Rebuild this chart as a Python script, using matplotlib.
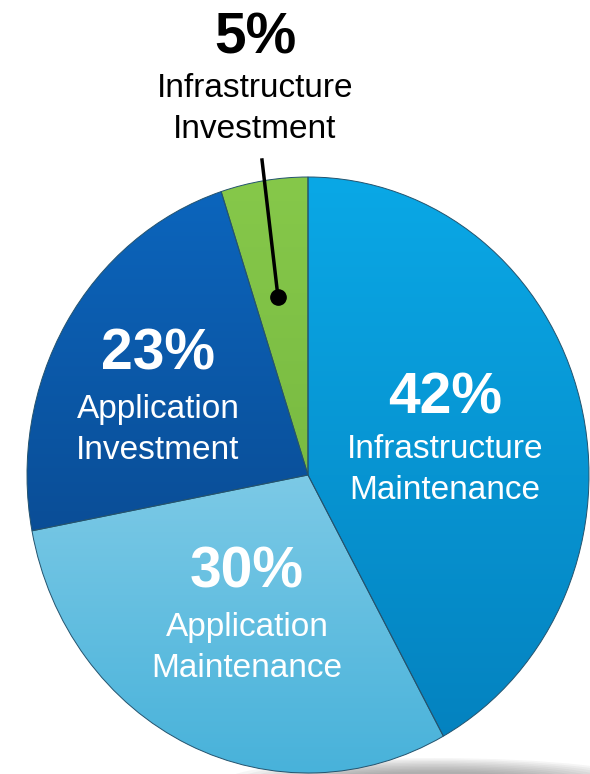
import numpy as np
import matplotlib.pyplot as plt
from matplotlib.colors import LinearSegmentedColormap
from matplotlib.patches import Ellipse

plt.rcParams['font.family'] = ['Liberation Sans', 'DejaVu Sans']

# data
osuudet = [42, 30, 23, 5]
prosentit = ['42%', '30%', '23%', '5%']
nimet = ['Infrastructure\nMaintenance', 'Application\nMaintenance',
         'Application\nInvestment', 'Infrastructure\nInvestment']

# liukuvarit ylhäältä alas
varit_yla = ['#0AA8E6', '#B0E1F2', '#0C66BE', '#86C84A']
varit_ala = ['#0480BD', '#48B2DA', '#093D7C', '#6CAE3A']

# tekstien paikat (pikseleinä)
pros_xy = [(445, 398), (247, 572), (158, 355), (255, 38)]
nimi_xy = [(445, 470), (247, 648), (158, 430), (255, 109)]
tekstivari = ['white', 'white', 'white', 'black']

W, H = 590, 774
fig = plt.figure(figsize=(W / 100, H / 100), dpi=100)

# piirakan akselit (hieman soikea)
cx, cy, rx, ry = 308, 475, 281, 298
pie_ax = fig.add_axes([(cx - rx) / W, (H - cy - ry) / H, 2 * rx / W, 2 * ry / H])

# varjo alareunaan
for i in range(10):
    pie_ax.add_patch(Ellipse((0.45, -1.03), 1.5 - i * 0.08, 0.16 - i * 0.01,
                             color='#555555', alpha=0.06, lw=0, clip_on=False))

wedges, _ = pie_ax.pie(osuudet, startangle=90, counterclock=False, radius=1,
                       wedgeprops=dict(edgecolor='#23536e', linewidth=0.7))
pie_ax.set_aspect('auto')
pie_ax.axis('off')

gradientti = np.linspace(0, 1, 256).reshape(-1, 1)
for w, c1, c2 in zip(wedges, varit_yla, varit_ala):
    cmap = LinearSegmentedColormap.from_list('g', [c1, c2])
    im = pie_ax.imshow(gradientti, cmap=cmap, extent=(-1, 1, -1, 1), aspect='auto',
                       origin='upper', zorder=w.get_zorder() + 0.1)
    im.set_clip_path(w)
    w.set_zorder(w.get_zorder() + 0.2)
    w.set_facecolor('none')
pie_ax.set_xlim(-1, 1)
pie_ax.set_ylim(-1, 1)

# tekstikerros
ax = fig.add_axes([0, 0, 1, 1], facecolor='none')
ax.set_xlim(0, W)
ax.set_ylim(H, 0)
ax.axis('off')

for p, n, pxy, nxy, c in zip(prosentit, nimet, pros_xy, nimi_xy, tekstivari):
    ax.text(pxy[0], pxy[1], p, color=c, fontsize=41, fontweight='bold',
            ha='center', va='center')
    ax.text(nxy[0], nxy[1], n, color=c, fontsize=24, ha='center', va='center',
            linespacing=1.42)

# viiva pieneen siivuun
ax.plot([262, 278], [160, 297], color='black', lw=2.5)
ax.plot([278], [297], 'o', color='black', ms=11)

fig.savefig('out.png', dpi=100)
